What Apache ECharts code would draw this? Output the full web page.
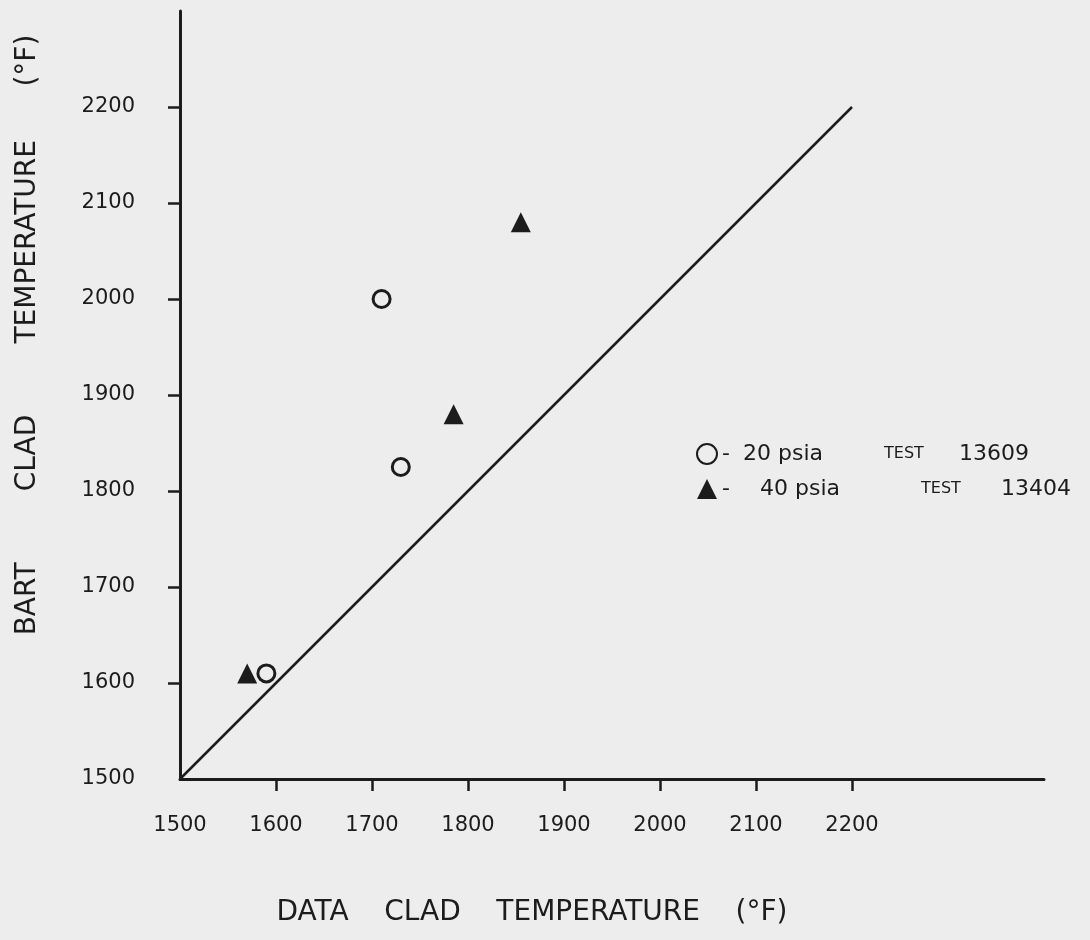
<!DOCTYPE html>
<html>
<head>
<meta charset="utf-8">
<script src="https://cdn.jsdelivr.net/npm/echarts@6/dist/echarts.min.js"></script>
<style>
    html, body { margin: 0; padding: 0; background: #ededed; }
    #chart { width: 1090px; height: 940px; }
</style>
</head>
<body>
<div id="chart"></div>
<script>
// data (°F)
const psia20Data = [[1710, 2000], [1730, 1825], [1590, 1610]];   // circles, test 13609
const psia40Data = [[1855, 2080], [1785, 1880], [1570, 1610]];   // triangles, test 13404
const equalLine = [[1500, 1500], [2200, 2200]];                  // 45 degree line
const xTicks = [1500, 1600, 1700, 1800, 1900, 2000, 2100, 2200];
const yTicks = [1500, 1600, 1700, 1800, 1900, 2000, 2100, 2200];
const seriesNames = ['20 psia', '40 psia'];
const testNames = ['13609', '13404'];

const ink = '#1c1c1c';
const font = 'DejaVu Sans';

const chart = echarts.init(document.getElementById('chart'));

const option = {
    backgroundColor: '#ededed',
    animation: false,
    grid: {
        left: 180,
        right: 46,
        top: 11,
        bottom: 161,
    },
    legend: {
        data: seriesNames,
        orient: 'vertical',
        left: 691,
        top: 438,
        itemGap: 13,
        itemWidth: 20,
        itemHeight: 20,
        formatter: function (name) {
            let i = seriesNames.indexOf(name) + 1;
            return '{d' + i + '|-}{a' + i + '|' + name + '}{t' + i + '|TEST}{n|' + testNames[i - 1] + '}';
        },
        textStyle: {
            rich: {
                d1: { fontFamily: font, fontSize: 22, color: ink, width: 21 },
                d2: { fontFamily: font, fontSize: 22, color: ink, width: 38 },
                a1: { fontFamily: font, fontSize: 22, color: ink, width: 141 },
                a2: { fontFamily: font, fontSize: 22, color: ink, width: 161 },
                t1: { fontFamily: font, fontSize: 16, color: ink, width: 75 },
                t2: { fontFamily: font, fontSize: 16, color: ink, width: 80 },
                n: { fontFamily: font, fontSize: 22, color: ink },
            },
        },
    },
    xAxis: {
        type: 'value',
        min: 1500,
        max: 2400,
        interval: 100,
        name: 'DATA    CLAD    TEMPERATURE    (°F)',
        nameLocation: 'middle',
        nameGap: 120,
        nameTextStyle: {
            fontFamily: font,
            fontSize: 28,
            color: ink,
            padding: [0, 160, 0, 0],
        },
        splitLine: { show: false },
        axisLine: { lineStyle: { color: ink, width: 3 } },
        axisTick: {
            customValues: xTicks.slice(1),
            length: 12,
            lineStyle: { color: ink, width: 2.5 },
        },
        axisLabel: {
            customValues: xTicks,
            margin: 36,
            fontFamily: font,
            fontSize: 21,
            color: ink,
            formatter: v => String(v),
        },
    },
    yAxis: {
        type: 'value',
        min: 1500,
        max: 2300,
        interval: 100,
        name: 'BART        CLAD        TEMPERATURE      (°F)',
        nameLocation: 'middle',
        nameGap: 138,
        nameTextStyle: {
            fontFamily: font,
            fontSize: 28,
            color: ink,
            padding: [0, 0, 0, 120],
        },
        splitLine: { show: false },
        axisLine: { lineStyle: { color: ink, width: 3 } },
        axisTick: {
            customValues: yTicks.slice(1),
            length: 12,
            lineStyle: { color: ink, width: 2.5 },
        },
        axisLabel: {
            customValues: yTicks,
            margin: 45,
            fontFamily: font,
            fontSize: 21,
            color: ink,
            formatter: v => String(v),
        },
    },
    series: [
        {
            name: seriesNames[0],
            type: 'scatter',
            data: psia20Data,
            symbol: 'circle',
            symbolSize: 17,
            itemStyle: {
                color: '#ededed',
                borderColor: ink,
                borderWidth: 3,
                opacity: 1,
            },
        },
        {
            name: seriesNames[1],
            type: 'scatter',
            data: psia40Data,
            symbol: 'triangle',
            symbolSize: 20,
            itemStyle: {
                color: ink,
                opacity: 1,
            },
        },
        {
            name: 'equal',
            type: 'line',
            data: equalLine,
            symbol: 'none',
            silent: true,
            lineStyle: { color: ink, width: 2.5 },
            z: 1,
        },
    ],
};

chart.setOption(option);
</script>
</body>
</html>
